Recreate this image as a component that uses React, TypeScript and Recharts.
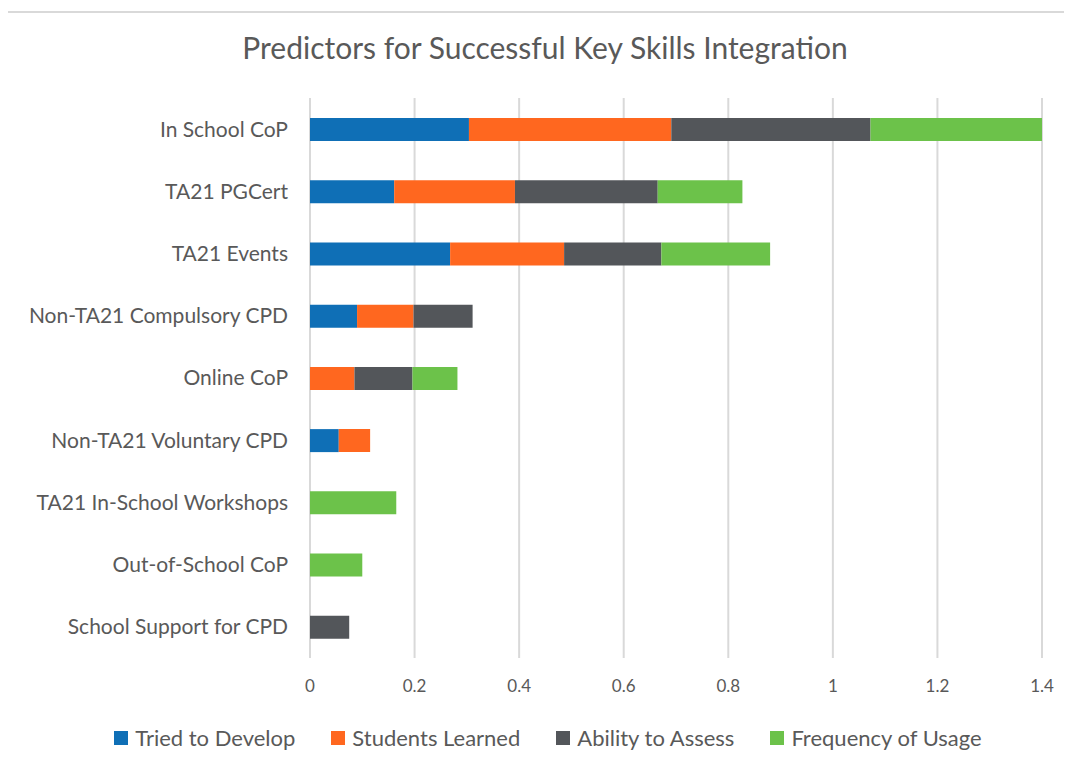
import React from "react";
import {
  BarChart,
  Bar,
  XAxis,
  YAxis,
  CartesianGrid,
  Legend,
} from "recharts";

const categories = [
  "In School CoP",
  "TA21 PGCert",
  "TA21 Events",
  "Non-TA21 Compulsory CPD",
  "Online CoP",
  "Non-TA21 Voluntary CPD",
  "TA21 In-School Workshops",
  "Out-of-School CoP",
  "School Support for CPD",
];

const triedToDevelop = [0.304, 0.161, 0.268, 0.09, 0, 0.055, 0, 0, 0];
const studentsLearned = [0.387, 0.231, 0.218, 0.108, 0.085, 0.06, 0, 0, 0];
const abilityToAssess = [0.381, 0.273, 0.186, 0.113, 0.111, 0, 0, 0, 0.075];
const frequencyOfUsage = [0.328, 0.162, 0.208, 0, 0.086, 0, 0.165, 0.1, 0];

const xTicks = [0, 0.2, 0.4, 0.6, 0.8, 1, 1.2, 1.4];

const series = [
  { key: "tried", name: "Tried to Develop", color: "#0F6FB6", values: triedToDevelop },
  { key: "students", name: "Students Learned", color: "#FF671F", values: studentsLearned },
  { key: "ability", name: "Ability to Assess", color: "#53565A", values: abilityToAssess },
  { key: "frequency", name: "Frequency of Usage", color: "#6CC24A", values: frequencyOfUsage },
];

const data = categories.map((name, i) => {
  const row: any = { name };
  series.forEach((s) => {
    row[s.key] = s.values[i];
  });
  return row;
});

const font = "Lato, 'Open Sans', sans-serif";
const textColor = "#595959";

// legend in the series order, Excel style
const renderLegend = () => (
  <div
    style={{
      display: "flex",
      justifyContent: "center",
      paddingTop: 16,
      paddingLeft: 80,
      fontSize: 22,
      fontFamily: font,
      color: textColor,
    }}
  >
    {series.map((s) => (
      <div key={s.key} style={{ display: "flex", alignItems: "center", marginRight: 36 }}>
        <span style={{ width: 14, height: 14, background: s.color, marginRight: 7, display: "inline-block" }} />
        <span>{s.name}</span>
      </div>
    ))}
  </div>
);

export default function App() {
  return (
    <div style={{ position: "relative", margin: -8, width: 1072, height: 765, background: "#fff", fontFamily: font }}>
      <div
        style={{
          position: "absolute",
          top: 29,
          left: 0,
          width: 1090,
          textAlign: "center",
          fontSize: 30,
          color: textColor,
        }}
      >
        Predictors for Successful Key Skills Integration
      </div>
      <div style={{ position: "absolute", left: 0, top: 0 }}>
        <BarChart
          width={1072}
          height={765}
          data={data}
          layout="vertical"
          margin={{ top: 98, right: 30, left: 10, bottom: 0 }}
          barSize={23}
        >
          <CartesianGrid horizontal={false} stroke="#d9d9d9" strokeWidth={2} />
          <XAxis
            type="number"
            domain={[0, 1.4]}
            ticks={xTicks}
            allowDataOverflow
            axisLine={false}
            tickLine={false}
            height={50}
            tick={{ fill: textColor, fontSize: 17, fontFamily: font, dy: 14 }}
            tickFormatter={(v: number) => String(v)}
          />
          <YAxis
            type="category"
            dataKey="name"
            width={300}
            axisLine={false}
            tickLine={false}
            tick={{ fill: textColor, fontSize: 21, fontFamily: font, dx: -14 }}
          />
          <Legend verticalAlign="bottom" align="center" height={57} content={renderLegend} />
          {series.map((s) => (
            <Bar
              key={s.key}
              dataKey={s.key}
              name={s.name}
              stackId="a"
              fill={s.color}
              isAnimationActive={false}
            />
          ))}
        </BarChart>
      </div>
      <div
        style={{
          position: "absolute",
          left: 5,
          top: 11,
          width: 1080,
          height: 748,
          border: "2px solid #d9d9d9",
          boxSizing: "border-box",
          pointerEvents: "none",
        }}
      />
    </div>
  );
}
